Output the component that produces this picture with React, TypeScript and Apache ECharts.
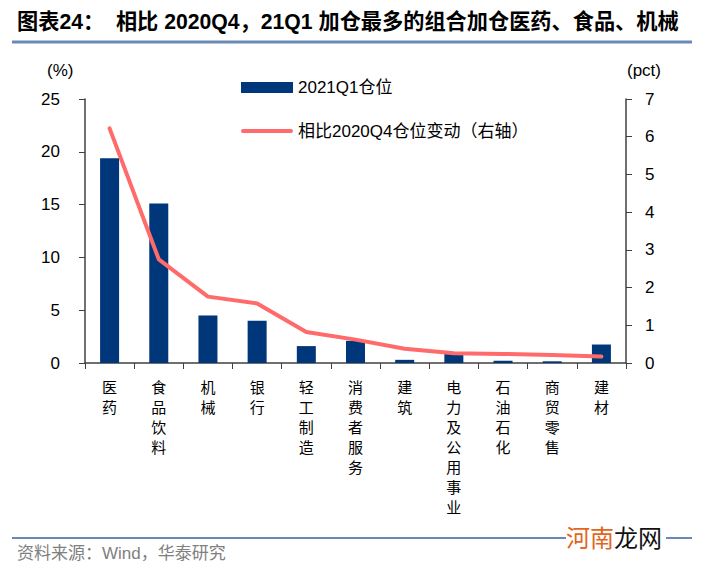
import React, { useEffect, useRef } from "react";
import * as echarts from "echarts";

const categories = ["医药", "食品饮料", "机械", "银行", "轻工制造", "消费者服务", "建筑", "电力及公用事业", "石油石化", "商贸零售", "建材"];
const positions = [19.4, 15.1, 4.5, 4.0, 1.6, 2.1, 0.3, 0.85, 0.22, 0.16, 1.75];
const changes = [6.22, 2.75, 1.76, 1.58, 0.82, 0.62, 0.38, 0.26, 0.24, 0.21, 0.17];
const seriesNames = ["2021Q1仓位", "相比2020Q4仓位变动（右轴）"];
const leftTicks = { min: 0, max: 25, interval: 5 };
const rightTicks = { min: 0, max: 7, interval: 1 };

const BAR = "#00367A";
const LINE = "#FF6B6B";
const RULE = "#6A8AB5";
const LATIN = "'Liberation Sans', Arial, 'Noto Sans CJK SC', sans-serif";

export default function App() {
  const ref = useRef<HTMLDivElement>(null);
  useEffect(() => {
    if (!ref.current) return;
    const chart = echarts.init(ref.current, undefined, { renderer: "svg" });
    chart.setOption({
      animation: false,
      backgroundColor: "#ffffff",
      grid: { left: 85, right: 79, top: 99, bottom: 206, containLabel: false },
      xAxis: {
        type: "category",
        data: categories,
        boundaryGap: true,
        axisLine: { lineStyle: { color: "#404040", width: 1.5 } },
        axisTick: { show: true, length: 6, inside: false, lineStyle: { color: "#404040" } },
        axisLabel: {
          interval: 0,
          margin: 13,
          fontSize: 15,
          lineHeight: 20,
          color: "#000",
          fontFamily: "'Noto Sans CJK SC', sans-serif",
          formatter: (v: string) => v.split("").join("\n"),
        },
      },
      yAxis: [
        {
          type: "value",
          ...leftTicks,
          splitLine: { show: false },
          axisLine: { show: true, lineStyle: { color: "#404040", width: 1.5 } },
          axisTick: { show: true, length: 6, lineStyle: { color: "#404040" } },
          axisLabel: { margin: 25, fontSize: 17, color: "#000", fontFamily: LATIN },
        },
        {
          type: "value",
          position: "right",
          ...rightTicks,
          splitLine: { show: false },
          axisLine: { show: true, lineStyle: { color: "#404040", width: 1.5 } },
          axisTick: { show: true, length: 6, lineStyle: { color: "#404040" } },
          axisLabel: { margin: 19, fontSize: 17, color: "#000", fontFamily: LATIN },
        },
      ],
      series: [
        {
          name: seriesNames[0],
          type: "bar",
          data: positions,
          barWidth: 19,
          itemStyle: { color: BAR },
          yAxisIndex: 0,
        },
        {
          name: seriesNames[1],
          type: "line",
          data: changes,
          yAxisIndex: 1,
          symbol: "none",
          lineStyle: { color: LINE, width: 4, cap: "round" },
          itemStyle: { color: LINE },
        },
      ],
      graphic: [
        {
          type: "text",
          left: 17,
          top: 11,
          style: {
            text: "图表24：  相比 2020Q4，21Q1 加仓最多的组合加仓医药、食品、机械",
            fontSize: 21.2,
            fontWeight: "bold",
            fill: "#000",
            fontFamily: "'Liberation Sans', 'Noto Sans CJK SC', sans-serif",
          },
        },
        { type: "line", shape: { x1: 12, y1: 42, x2: 692, y2: 42 }, style: { stroke: RULE, lineWidth: 3 } },
        // legend
        { type: "rect", shape: { x: 241, y: 82, width: 52, height: 11 }, style: { fill: BAR } },
        {
          type: "text",
          x: 298,
          y: 87.5,
          style: { text: seriesNames[0], fontSize: 17, fill: "#000", fontFamily: LATIN, verticalAlign: "middle" },
        },
        {
          type: "line",
          shape: { x1: 243, y1: 131, x2: 291, y2: 131 },
          style: { stroke: LINE, lineWidth: 4, lineCap: "round" },
        },
        {
          type: "text",
          x: 298,
          y: 131,
          style: { text: seriesNames[1], fontSize: 17, fill: "#000", fontFamily: LATIN, verticalAlign: "middle" },
        },
        {
          type: "text",
          left: 47,
          top: 62,
          style: { text: "(%)", fontSize: 17, fill: "#000", fontFamily: LATIN },
        },
        {
          type: "text",
          left: 627,
          top: 62,
          style: { text: "(pct)", fontSize: 17, fill: "#000", fontFamily: LATIN },
        },
        { type: "line", shape: { x1: 12, y1: 538, x2: 566, y2: 538 }, style: { stroke: RULE, lineWidth: 2 } },
        { type: "line", shape: { x1: 666, y1: 538, x2: 692, y2: 538 }, style: { stroke: RULE, lineWidth: 2 } },
        {
          type: "text",
          left: 566,
          top: 524,
          style: {
            text: "{a|河南}{b|龙网}",
            rich: {
              a: { fontSize: 24, fill: "#E2661C", fontFamily: "'Noto Sans CJK SC', sans-serif" },
              b: { fontSize: 24, fill: "#111", fontFamily: "'Noto Sans CJK SC', sans-serif" },
            },
          },
        },
        {
          type: "text",
          left: 17,
          top: 545,
          style: {
            text: "资料来源：Wind，华泰研究",
            fontSize: 17,
            fill: "#808080",
            fontFamily: "'Liberation Sans', 'Noto Sans CJK SC', sans-serif",
          },
        },
      ],
    });
    return () => chart.dispose();
  }, []);
  return <div ref={ref} style={{ position: "absolute", left: 0, top: 0, width: 705, height: 569 }} />;
}
